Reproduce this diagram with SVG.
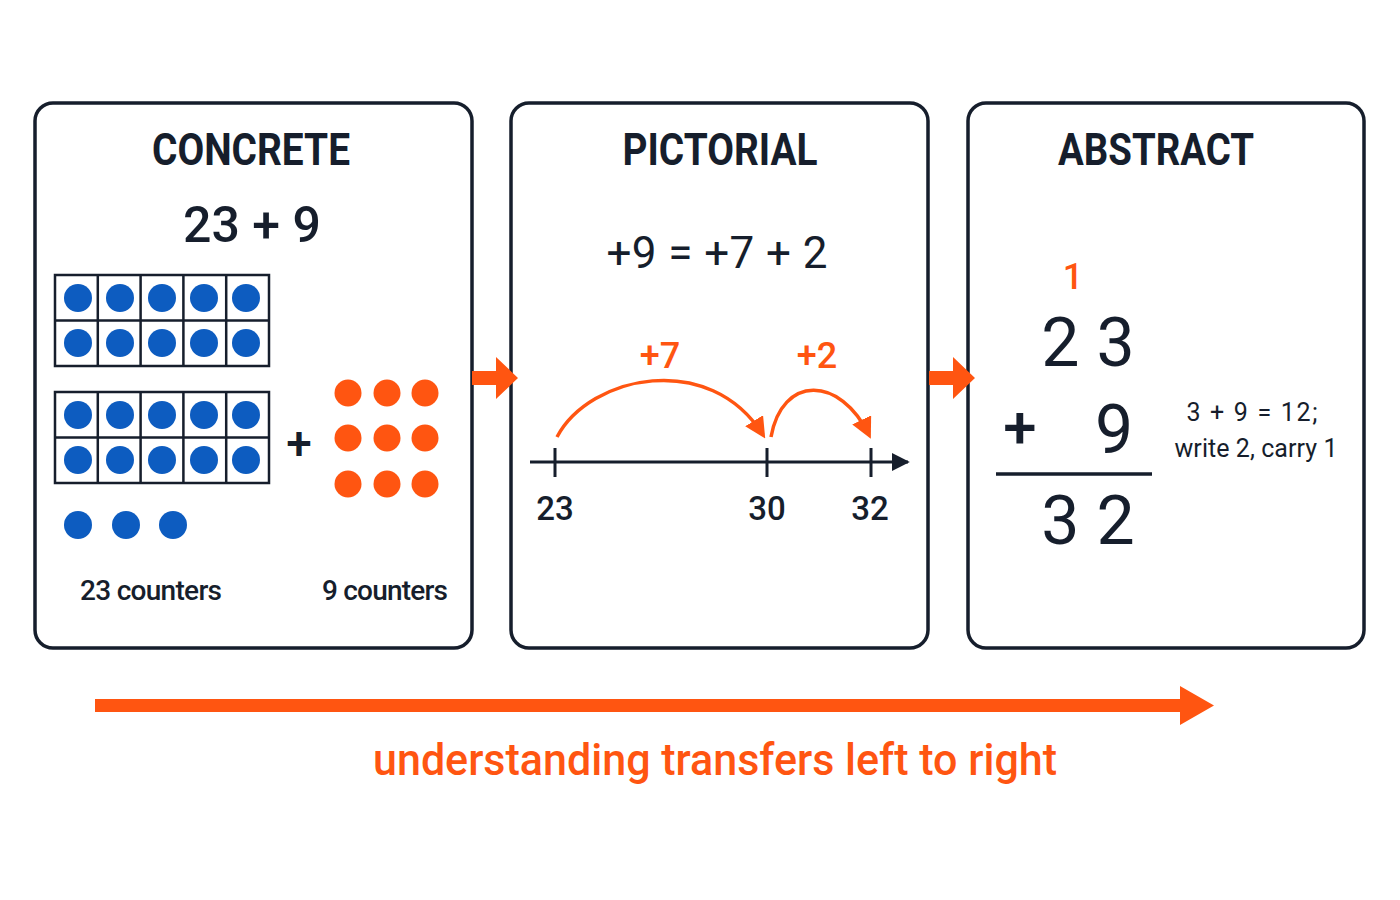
<svg xmlns="http://www.w3.org/2000/svg" width="1400" height="900" viewBox="0 0 1400 900">
<defs>
<style>
.panel{fill:#fff;stroke:#161e2c;stroke-width:3.5}
.title{font-family:Roboto,"Liberation Sans",Arial,sans-serif;font-weight:bold;font-size:44px;fill:#161e2c;text-anchor:middle}
.txt{font-family:Roboto,"Liberation Sans",Arial,sans-serif;fill:#161e2c;text-anchor:middle;font-weight:500}
.reg{font-weight:400}
.or{fill:#ff5511}
.blue{fill:#0d5cc0}
.frame{fill:#fff;stroke:#161e2c;stroke-width:2.5}
.arc{fill:none;stroke:#ff5511;stroke-width:3.5}
</style>
<marker id="ah" viewBox="0 0 10 10" refX="8" refY="5" markerWidth="6" markerHeight="6" orient="auto" markerUnits="strokeWidth">
<path d="M0,0 L10,5 L0,10 z" fill="#ff5511"/>
</marker>
<marker id="axh" viewBox="0 0 10 10" refX="9" refY="5" markerWidth="6" markerHeight="6" orient="auto" markerUnits="strokeWidth">
<path d="M0,0 L10,5 L0,10 z" fill="#161e2c"/>
</marker>
</defs>
<rect width="1400" height="900" fill="#fff"/>

<g id="concrete">
<rect class="panel" x="35" y="103" width="437" height="545" rx="18"/>
<text class="title" x="251" y="165" textLength="198" lengthAdjust="spacingAndGlyphs">CONCRETE</text>
<text class="txt" x="252" y="242" font-size="50">23 + 9</text>
<g>
<rect class="frame" x="55" y="275" width="214" height="91"/>
<path d="M97.8,275V366M140.6,275V366M183.4,275V366M226.2,275V366M55,320.5H269" stroke="#161e2c" stroke-width="2.5"/>
<g class="blue">
<circle cx="78" cy="298" r="14"/><circle cx="120" cy="298" r="14"/><circle cx="162" cy="298" r="14"/><circle cx="204" cy="298" r="14"/><circle cx="246" cy="298" r="14"/>
<circle cx="78" cy="343" r="14"/><circle cx="120" cy="343" r="14"/><circle cx="162" cy="343" r="14"/><circle cx="204" cy="343" r="14"/><circle cx="246" cy="343" r="14"/>
</g>
</g>
<g>
<rect class="frame" x="55" y="392" width="214" height="91"/>
<path d="M97.8,392V483M140.6,392V483M183.4,392V483M226.2,392V483M55,437.5H269" stroke="#161e2c" stroke-width="2.5"/>
<g class="blue">
<circle cx="78" cy="415" r="14"/><circle cx="120" cy="415" r="14"/><circle cx="162" cy="415" r="14"/><circle cx="204" cy="415" r="14"/><circle cx="246" cy="415" r="14"/>
<circle cx="78" cy="460" r="14"/><circle cx="120" cy="460" r="14"/><circle cx="162" cy="460" r="14"/><circle cx="204" cy="460" r="14"/><circle cx="246" cy="460" r="14"/>
</g>
</g>
<g class="blue">
<circle cx="78" cy="525" r="14"/><circle cx="126" cy="525" r="14"/><circle cx="173" cy="525" r="14"/>
</g>
<text class="txt" x="299" y="459" font-size="46" font-weight="700">+</text>
<g class="or">
<circle cx="348" cy="393" r="13.5"/><circle cx="387" cy="393" r="13.5"/><circle cx="425" cy="393" r="13.5"/>
<circle cx="348" cy="438" r="13.5"/><circle cx="387" cy="438" r="13.5"/><circle cx="425" cy="438" r="13.5"/>
<circle cx="348" cy="484" r="13.5"/><circle cx="387" cy="484" r="13.5"/><circle cx="425" cy="484" r="13.5"/>
</g>
<text class="txt" x="151" y="600" font-size="28" textLength="142">23 counters</text>
<text class="txt" x="385" y="600" font-size="28" textLength="126">9 counters</text>
</g>

<g id="pictorial">
<rect class="panel" x="511" y="103" width="417" height="545" rx="18"/>
<text class="title" x="720" y="165" textLength="195" lengthAdjust="spacingAndGlyphs">PICTORIAL</text>
<text class="txt reg" x="717" y="268" font-size="44" textLength="221">+9 = +7 + 2</text>
<line x1="530" y1="462" x2="908" y2="462" stroke="#161e2c" stroke-width="3" marker-end="url(#axh)"/>
<path d="M555,448V477M767,448V477M871,448V477" stroke="#161e2c" stroke-width="3"/>
<text class="txt" x="555" y="520" font-size="33">23</text>
<text class="txt" x="767" y="520" font-size="33">30</text>
<text class="txt" x="870" y="520" font-size="33">32</text>
<path class="arc" d="M557,437 C590,375 710,350 763,435" marker-end="url(#ah)"/>
<path class="arc" d="M771,437 C782,375 840,375 869,435" marker-end="url(#ah)"/>
<text class="txt or" x="660" y="368" font-size="36">+7</text>
<text class="txt or" x="817" y="368" font-size="36">+2</text>
</g>

<g id="abstract">
<rect class="panel" x="968" y="103" width="396" height="545" rx="18"/>
<text class="title" x="1156" y="165" textLength="196" lengthAdjust="spacingAndGlyphs">ABSTRACT</text>
<text class="txt or" x="1073" y="289" font-size="36">1</text>
<text class="txt reg" x="1088" y="366" font-size="68">2 3</text>
<text class="txt" x="1020" y="448" font-size="60">+</text>
<text class="txt reg" x="1114" y="453" font-size="68">9</text>
<line x1="996" y1="474" x2="1152" y2="474" stroke="#161e2c" stroke-width="3.5"/>
<text class="txt reg" x="1088" y="544" font-size="68">3 2</text>
<text class="txt reg" x="1252" y="421" font-size="25" textLength="131">3 + 9 = 12;</text>
<text class="txt reg" x="1256" y="457" font-size="25" textLength="163">write 2, carry 1</text>
</g>

<g id="connectors" fill="#ff5511">
<path d="M472,371 H496 V357 L518,378 L496,399 V385 H472 Z"/>
<path d="M929,371 H953 V357 L975,378 L953,399 V385 H929 Z"/>
<path d="M95,699 H1180 V686 L1214,705.5 L1180,725 V712 H95 Z"/>
</g>
<text class="txt or" x="715" y="775" font-size="44" textLength="684" lengthAdjust="spacingAndGlyphs">understanding transfers left to right</text>
</svg>
